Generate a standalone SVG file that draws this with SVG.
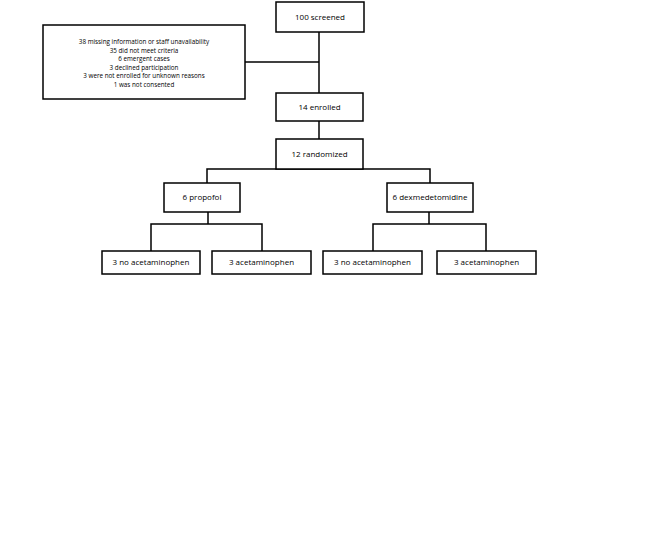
<svg xmlns="http://www.w3.org/2000/svg" width="654" height="542" viewBox="0 0 654 542">
<style>
.box{fill:#fff;stroke:#000;stroke-width:1.5}
.ln{fill:none;stroke:#000;stroke-width:1.5}
text{font-family:"Open Sans","Liberation Sans",sans-serif;fill:#000;text-anchor:middle}
.t{font-size:8px}
.s{font-size:6.3px}
</style>
<rect width="654" height="542" fill="#fff"/>
<g id="connectors">
<path class="ln" d="M319 32V93"/>
<path class="ln" d="M245 62H319"/>
<path class="ln" d="M319 121V139"/>
<path class="ln" d="M207 183V169H430V183"/>
<path class="ln" d="M208 212V224M151 251V224H262V251"/>
<path class="ln" d="M429 212V224M373 251V224H486V251"/>
</g>
<g id="screened"><rect class="box" x="276" y="2" width="88" height="30"/><text class="t" x="320" y="20">100 screened</text></g>
<g id="excluded"><rect class="box" x="43" y="25" width="202" height="74"/>
<text class="s" x="144" y="44">38 missing information or staff unavailability</text>
<text class="s" x="144" y="52.5">35 did not meet criteria</text>
<text class="s" x="144" y="61">6 emergent cases</text>
<text class="s" x="144" y="69.5">3 declined participation</text>
<text class="s" x="144" y="78">3 were not enrolled for unknown reasons</text>
<text class="s" x="144" y="86.5">1 was not consented</text>
</g>
<g id="enrolled"><rect class="box" x="276" y="93" width="87" height="28"/><text class="t" x="319.5" y="109.5">14 enrolled</text></g>
<g id="randomized"><rect class="box" x="276" y="139" width="87" height="30"/><text class="t" x="319.5" y="156.5">12 randomized</text></g>
<g id="propofol"><rect class="box" x="164" y="183" width="76" height="29"/><text class="t" x="202" y="200">6 propofol</text></g>
<g id="dex"><rect class="box" x="387" y="183" width="86" height="29"/><text class="t" x="430" y="200">6 dexmedetomidine</text></g>
<g id="p_noacet"><rect class="box" x="102" y="251" width="98" height="23"/><text class="t" x="151" y="265">3 no acetaminophen</text></g>
<g id="p_acet"><rect class="box" x="212" y="251" width="99" height="23"/><text class="t" x="261.5" y="265">3 acetaminophen</text></g>
<g id="d_noacet"><rect class="box" x="323" y="251" width="99" height="23"/><text class="t" x="372.5" y="265">3 no acetaminophen</text></g>
<g id="d_acet"><rect class="box" x="437" y="251" width="99" height="23"/><text class="t" x="486.5" y="265">3 acetaminophen</text></g>
</svg>
